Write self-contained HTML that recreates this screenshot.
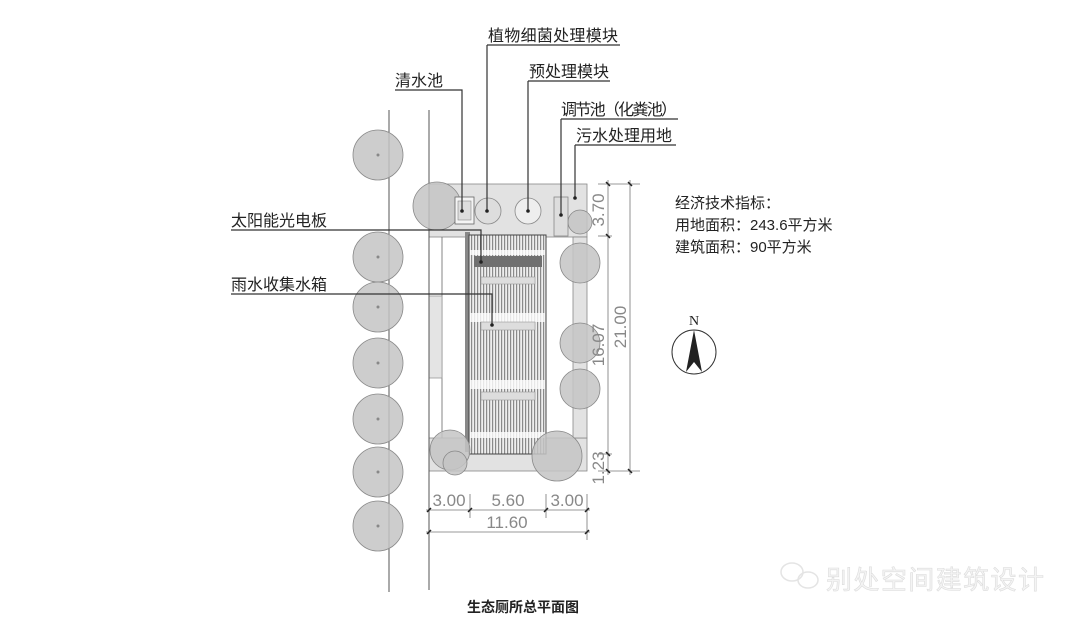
<!DOCTYPE html>
<html><head><meta charset="utf-8"><style>
html,body{margin:0;padding:0;background:#fff;}
svg{display:block;}
text{font-family:"Liberation Sans","Noto Sans CJK SC",sans-serif;}
</style></head><body>
<svg width="1080" height="627" viewBox="0 0 1080 627" xmlns="http://www.w3.org/2000/svg">
<defs>
<pattern id="st" width="3" height="10" patternUnits="userSpaceOnUse">
<rect width="3" height="10" fill="#eeeeee"/><rect width="1.2" height="10" fill="#8a8a8a"/>
</pattern>
</defs>
<g fill="#e2e2e2" stroke="#888" stroke-width="0.8">
<rect x="429" y="184" width="158" height="53"/>
<rect x="429" y="438" width="158" height="33"/>
<rect x="573" y="237" width="14" height="201"/>
</g>
<line x1="442" y1="237" x2="442" y2="438" stroke="#666" stroke-width="0.8"/>
<rect x="429" y="296" width="13" height="82" fill="#e4e4e4" stroke="#999" stroke-width="0.8"/>
<rect x="465" y="232" width="5" height="220" fill="#888"/>
<rect x="469" y="235" width="77" height="219" fill="url(#st)" stroke="#444" stroke-width="1"/>
<g fill="#fff" opacity="0.8">
<rect x="470" y="250" width="75" height="5"/>
<rect x="470" y="313" width="75" height="9"/>
<rect x="470" y="380" width="75" height="9"/>
<rect x="470" y="432" width="75" height="6"/>
</g>
<rect x="474" y="256" width="68" height="11" fill="#707070"/>
<g fill="#ddd" stroke="#999" stroke-width="0.6">
<rect x="481" y="277" width="54" height="7"/>
<rect x="481" y="322" width="54" height="8"/>
<rect x="481" y="392" width="54" height="8"/>
</g>
<line x1="389" y1="110" x2="389" y2="592" stroke="#555" stroke-width="1"/>
<line x1="429" y1="110" x2="429" y2="590" stroke="#555" stroke-width="1"/>
<g fill="#c4c4c4" fill-opacity="0.85" stroke="#888" stroke-width="0.8">
<circle cx="378" cy="155" r="25"/>
<circle cx="378" cy="257" r="25"/>
<circle cx="378" cy="307" r="25"/>
<circle cx="378" cy="363" r="25"/>
<circle cx="378" cy="419" r="25"/>
<circle cx="378" cy="472" r="25"/>
<circle cx="378" cy="526" r="25"/>
<circle cx="437" cy="206" r="24"/>
<circle cx="580" cy="222" r="12"/>
<circle cx="580" cy="263" r="20"/>
<circle cx="580" cy="343" r="20"/>
<circle cx="580" cy="389" r="20"/>
<circle cx="450" cy="450" r="20"/>
<circle cx="455" cy="463" r="12"/>
<circle cx="557" cy="456" r="25"/>
</g>
<g fill="#888"><circle cx="378" cy="155" r="1.5"/><circle cx="378" cy="257" r="1.5"/><circle cx="378" cy="307" r="1.5"/><circle cx="378" cy="363" r="1.5"/><circle cx="378" cy="419" r="1.5"/><circle cx="378" cy="472" r="1.5"/><circle cx="378" cy="526" r="1.5"/></g>
<rect x="455" y="197" width="19" height="27" fill="#f4f4f4" stroke="#666" stroke-width="0.8"/>
<rect x="458" y="201" width="13" height="19" fill="#ddd" stroke="#888" stroke-width="0.6"/>
<circle cx="488" cy="211" r="13" fill="#ddd" stroke="#888" stroke-width="0.8"/>
<circle cx="528" cy="211" r="13" fill="#eee" stroke="#888" stroke-width="0.8"/>
<rect x="554" y="197" width="14" height="39" fill="#ddd" stroke="#888" stroke-width="0.8"/>
<g fill="none" stroke="#333" stroke-width="1.2">
<polyline points="395,90 462,90 462,211"/>
<polyline points="487,45 620,45"/><line x1="487" y1="45" x2="487" y2="211"/>
<polyline points="528,81 610,81"/><line x1="528" y1="81" x2="528" y2="211"/>
<polyline points="561,119 678,119"/><line x1="561" y1="119" x2="561" y2="215"/>
<polyline points="575,145 676,145"/><line x1="575" y1="145" x2="575" y2="198"/>
<polyline points="231,230 481,230 481,262"/>
<polyline points="231,294 492,294 492,325"/>
</g>
<g fill="#222"><circle cx="462" cy="211" r="1.8"/><circle cx="487" cy="211" r="1.8"/><circle cx="528" cy="211" r="1.8"/><circle cx="561" cy="215" r="1.8"/><circle cx="575" cy="198" r="1.8"/><circle cx="481" cy="262" r="1.8"/><circle cx="492" cy="325" r="1.8"/></g>
<g font-size="16" fill="#222">
<text x="395" y="86">清水池</text>
<text x="488" y="41" textLength="130">植物细菌处理模块</text>
<text x="529" y="77">预处理模块</text>
<text x="561" y="115" textLength="116">调节池（化粪池）</text>
<text x="576" y="141">污水处理用地</text>
<text x="231" y="226">太阳能光电板</text>
<text x="231" y="290">雨水收集水箱</text>
</g>
<g stroke="#777" stroke-width="0.8" fill="none">
<line x1="608" y1="180" x2="608" y2="475"/>
<line x1="630" y1="180" x2="630" y2="475"/>
<line x1="598" y1="184" x2="640" y2="184"/>
<line x1="598" y1="236" x2="612" y2="236"/>
<line x1="598" y1="454" x2="612" y2="454"/>
<line x1="598" y1="471" x2="640" y2="471"/>
</g>
<g stroke="#222" stroke-width="1.5">
<line x1="606" y1="182" x2="610" y2="186"/><line x1="628" y1="182" x2="632" y2="186"/>
<line x1="606" y1="234" x2="610" y2="238"/><line x1="606" y1="452" x2="610" y2="456"/>
<line x1="606" y1="469" x2="610" y2="473"/><line x1="628" y1="469" x2="632" y2="473"/>
</g>
<g fill="#888" font-size="17">
<text transform="translate(604,210) rotate(-90)" text-anchor="middle">3.70</text>
<text transform="translate(604,345) rotate(-90)" text-anchor="middle">16.07</text>
<text transform="translate(626,327) rotate(-90)" text-anchor="middle">21.00</text>
<text transform="translate(604,468) rotate(-90)" text-anchor="middle">1.23</text>
</g>
<g stroke="#777" stroke-width="0.8">
<line x1="426" y1="510" x2="590" y2="510"/>
<line x1="426" y1="532" x2="590" y2="532"/>
<line x1="470" y1="494" x2="470" y2="518"/>
<line x1="546" y1="494" x2="546" y2="518"/>
<line x1="587" y1="494" x2="587" y2="540"/>
</g>
<g stroke="#222" stroke-width="1.5">
<line x1="427" y1="512" x2="431" y2="508"/><line x1="468" y1="512" x2="472" y2="508"/>
<line x1="544" y1="512" x2="548" y2="508"/><line x1="585" y1="512" x2="589" y2="508"/>
<line x1="427" y1="534" x2="431" y2="530"/><line x1="585" y1="534" x2="589" y2="530"/>
</g>
<g fill="#888" font-size="17" text-anchor="middle">
<text x="449" y="506">3.00</text>
<text x="508" y="506">5.60</text>
<text x="567" y="506">3.00</text>
<text x="507" y="528">11.60</text>
</g>
<g font-size="15" fill="#222">
<text x="675" y="208">经济技术指标：</text>
<text x="675" y="230">用地面积：243.6平方米</text>
<text x="675" y="252">建筑面积：90平方米</text>
</g>
<circle cx="694" cy="352" r="22" fill="#fff" stroke="#333" stroke-width="1"/>
<polygon points="694,330 686,372 694,362 702,372" fill="#222"/>
<text x="694" y="325" font-size="14" text-anchor="middle" fill="#222" style="font-family:'Liberation Serif',serif">N</text>
<text x="523" y="612" font-size="14" font-weight="bold" text-anchor="middle" fill="#222">生态厕所总平面图</text>
<g fill="none" stroke="#e4e4e4" stroke-width="1.5"><ellipse cx="792" cy="572" rx="11" ry="9"/><ellipse cx="808" cy="580" rx="10" ry="8"/></g>
<text x="826" y="589" font-size="26" fill="#f4f4f4" stroke="#dcdcdc" stroke-width="0.6" textLength="218">别处空间建筑设计</text>
</svg>
</body></html>
